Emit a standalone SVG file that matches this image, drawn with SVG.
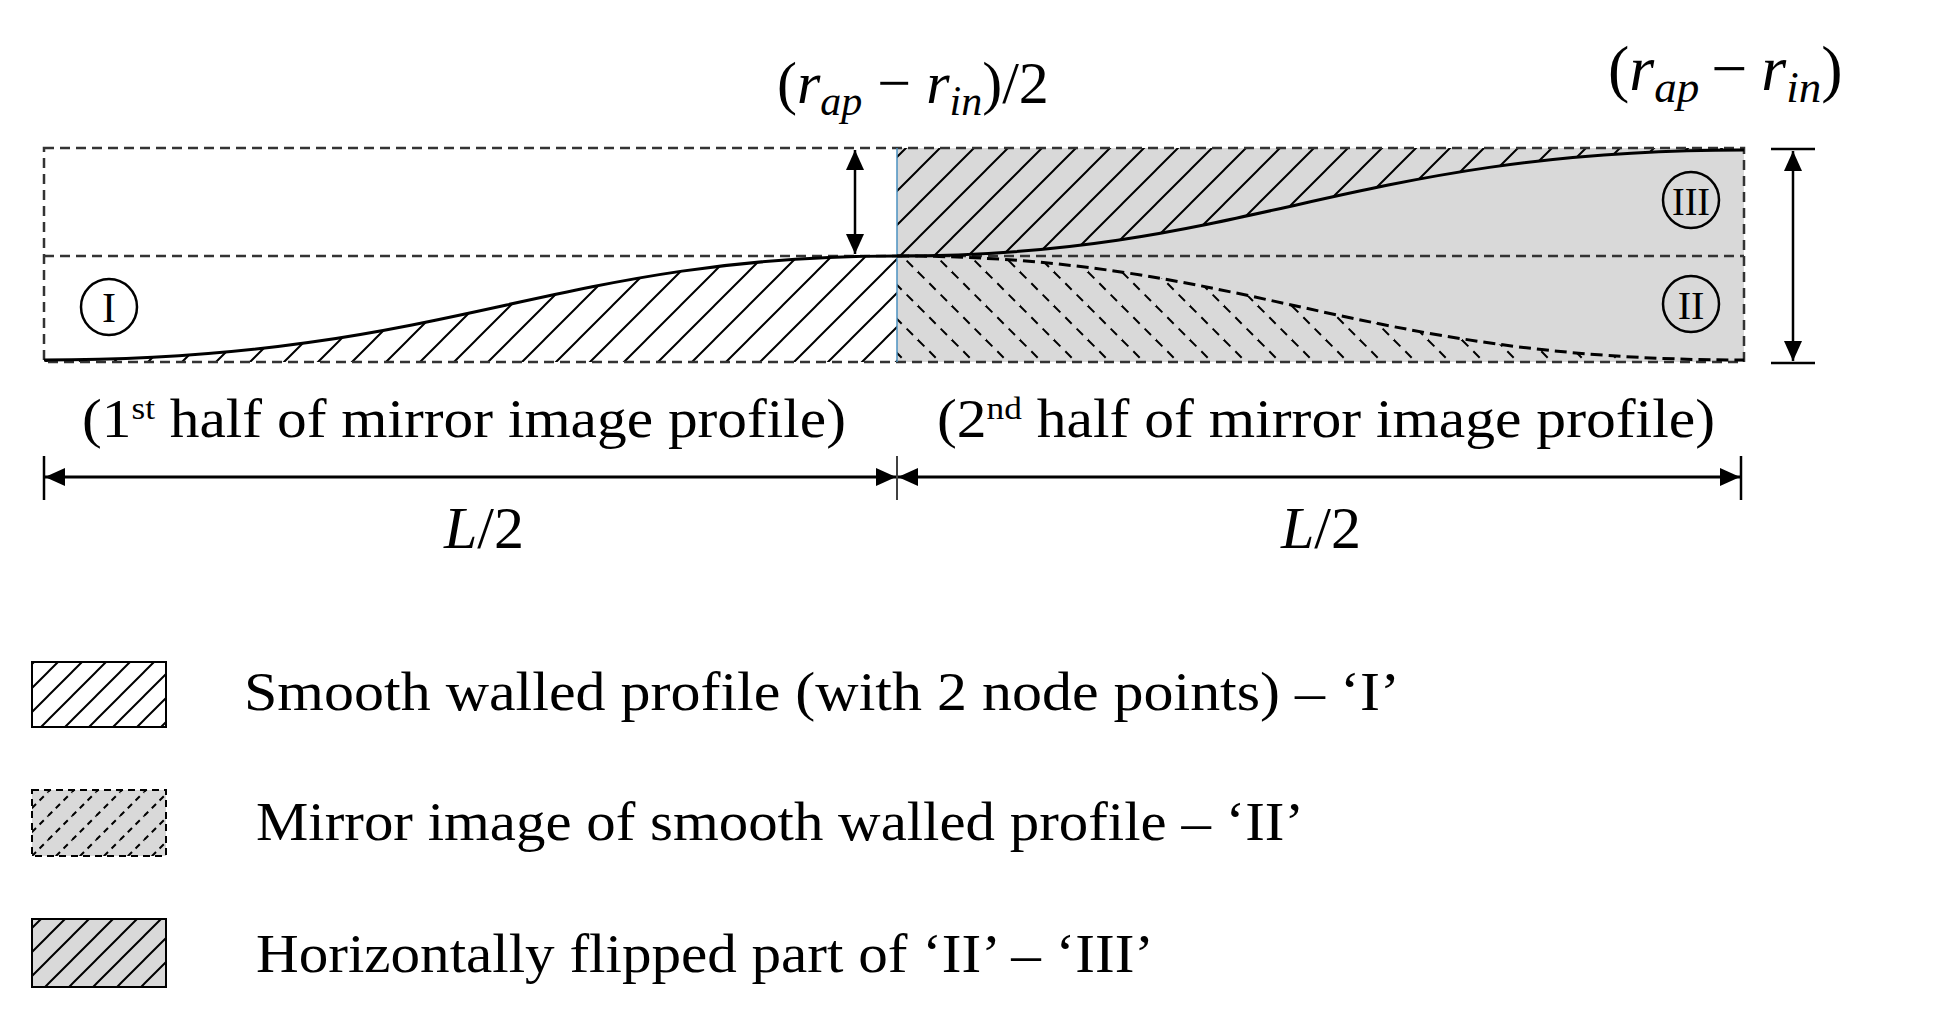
<svg xmlns="http://www.w3.org/2000/svg" width="1959" height="1012" viewBox="0 0 1959 1012">
<style>
text{font-family:"Liberation Serif","Times New Roman",serif;fill:#000}
.m{font-size:60px}
.i{font-style:italic}
.lab{font-size:54px}
.dash{fill:none;stroke:#333;stroke-width:2.5;stroke-dasharray:10 6}
.ln{fill:none;stroke:#000;stroke-width:3}
</style>
<defs>
<pattern id="h" patternUnits="userSpaceOnUse" width="34" height="34"><path d="M0,34 L34,0 M-17,17 L17,-17 M17,51 L51,17" stroke="#000" stroke-width="2"/></pattern>
<pattern id="hd" patternUnits="userSpaceOnUse" width="34" height="34"><path d="M0,0 L34,34 M-17,17 L17,51 M17,-17 L51,17" stroke="#000" stroke-width="2" stroke-dasharray="9 7"/></pattern>
<pattern id="hl" patternUnits="userSpaceOnUse" width="24" height="24"><path d="M0,24 L24,0 M-12,12 L12,-12 M12,36 L36,12" stroke="#000" stroke-width="2"/></pattern>
<pattern id="hld" patternUnits="userSpaceOnUse" width="24" height="24"><path d="M0,24 L24,0 M-12,12 L12,-12 M12,36 L36,12" stroke="#000" stroke-width="2" stroke-dasharray="6 5"/></pattern>
<marker id="b" viewBox="0 0 10 10" refX="10" refY="5" markerWidth="22" markerHeight="20" orient="auto-start-reverse" markerUnits="userSpaceOnUse"><path d="M0,0.5 L10,5 L0,9.5Z" fill="#000"/></marker>
</defs>
<g id="profile">
<rect x="897" y="148" width="847" height="214" fill="#d9d9d9"/>
<path d="M44,360 C450,360 550,256 897,256 L897,362 L44,362Z" fill="url(#h)"/>
<path d="M897,256 C1250,256 1350,150 1744,150 L1744,148 L897,148Z" fill="url(#h)"/>
<path d="M897,256 C1250,256 1350,360 1744,360 L1744,362 L897,362Z" fill="url(#hd)"/>
<rect x="44" y="148" width="1700" height="214" class="dash"/>
<line x1="44" y1="256" x2="1744" y2="256" class="dash"/>
<line x1="897" y1="148" x2="897" y2="362" stroke="#4a90c0" stroke-width="1.5"/>
<path d="M44,360 C450,360 550,256 897,256 C1250,256 1350,150 1744,150" class="ln"/>
<path d="M897,256 C1250,256 1350,360 1744,360" fill="none" stroke="#000" stroke-width="3" stroke-dasharray="12 6"/>
</g>
<g id="labels-circles">
<circle cx="109" cy="307" r="28" fill="none" stroke="#000" stroke-width="2.5"/>
<text x="109" y="322" text-anchor="middle" style="font-size:42px">I</text>
<circle cx="1691" cy="200" r="28" fill="none" stroke="#000" stroke-width="2.5"/>
<text x="1691" y="215" text-anchor="middle" style="font-size:40px" textLength="38" lengthAdjust="spacingAndGlyphs">III</text>
<circle cx="1691" cy="304" r="28" fill="none" stroke="#000" stroke-width="2.5"/>
<text x="1691" y="319" text-anchor="middle" style="font-size:40px">II</text>
</g>
<g id="connectors">
<line x1="855" y1="150" x2="855" y2="254" stroke="#000" stroke-width="2.5" marker-start="url(#b)" marker-end="url(#b)"/>
<line x1="1771" y1="149" x2="1815" y2="149" stroke="#000" stroke-width="2.5"/>
<line x1="1771" y1="363" x2="1815" y2="363" stroke="#000" stroke-width="2.5"/>
<line x1="1793" y1="151" x2="1793" y2="361" stroke="#000" stroke-width="2.5" marker-start="url(#b)" marker-end="url(#b)"/>
<line x1="44" y1="456" x2="44" y2="500" stroke="#000" stroke-width="2.5"/>
<line x1="897" y1="456" x2="897" y2="500" stroke="#000" stroke-width="1.5"/>
<line x1="1741" y1="456" x2="1741" y2="500" stroke="#000" stroke-width="2.5"/>
<line x1="45" y1="477" x2="896" y2="477" stroke="#000" stroke-width="3" marker-start="url(#b)" marker-end="url(#b)"/>
<line x1="898" y1="477" x2="1740" y2="477" stroke="#000" stroke-width="3" marker-start="url(#b)" marker-end="url(#b)"/>
</g>
<g id="texts">
<text x="777" y="103" class="m">(<tspan class="i">r</tspan><tspan class="i" style="font-size:42px" dy="12">ap</tspan><tspan dy="-12"> − </tspan><tspan class="i">r</tspan><tspan class="i" style="font-size:42px" dy="12">in</tspan><tspan dy="-12">)/2</tspan></text>
<text x="1608" y="90" style="font-size:64px">(<tspan class="i">r</tspan><tspan class="i" style="font-size:45px" dy="12">ap</tspan><tspan dy="-12" dx="12">−</tspan><tspan class="i" dx="14">r</tspan><tspan class="i" style="font-size:45px" dy="12">in</tspan><tspan dy="-12">)</tspan></text>
<text x="82" y="437" class="lab" textLength="764" lengthAdjust="spacingAndGlyphs">(1<tspan style="font-size:32px" dy="-18">st</tspan><tspan dy="18"> half of mirror image profile)</tspan></text>
<text x="937" y="437" class="lab" textLength="778" lengthAdjust="spacingAndGlyphs">(2<tspan style="font-size:32px" dy="-18">nd</tspan><tspan dy="18"> half of mirror image profile)</tspan></text>
<text x="484" y="548" class="m i" text-anchor="middle">L<tspan style="font-style:normal">/2</tspan></text>
<text x="1321" y="548" class="m i" text-anchor="middle">L<tspan style="font-style:normal">/2</tspan></text>
</g>
<g id="legend">
<rect x="32" y="662" width="134" height="65" fill="url(#hl)" stroke="#000" stroke-width="2"/>
<rect x="32" y="790" width="134" height="66" fill="#d9d9d9" stroke="none"/>
<rect x="32" y="790" width="134" height="66" fill="url(#hld)" stroke="#000" stroke-width="2" stroke-dasharray="7 5"/>
<rect x="32" y="919" width="134" height="68" fill="#d9d9d9"/>
<rect x="32" y="919" width="134" height="68" fill="url(#hl)" stroke="#000" stroke-width="2"/>
<text x="244" y="710" class="lab" textLength="1156" lengthAdjust="spacingAndGlyphs">Smooth walled profile (with 2 node points) – ‘I’</text>
<text x="256" y="840" class="lab" textLength="1048" lengthAdjust="spacingAndGlyphs">Mirror image of smooth walled profile – ‘II’</text>
<text x="256" y="972" class="lab" textLength="898" lengthAdjust="spacingAndGlyphs">Horizontally flipped part of ‘II’ – ‘III’</text>
</g>
</svg>
